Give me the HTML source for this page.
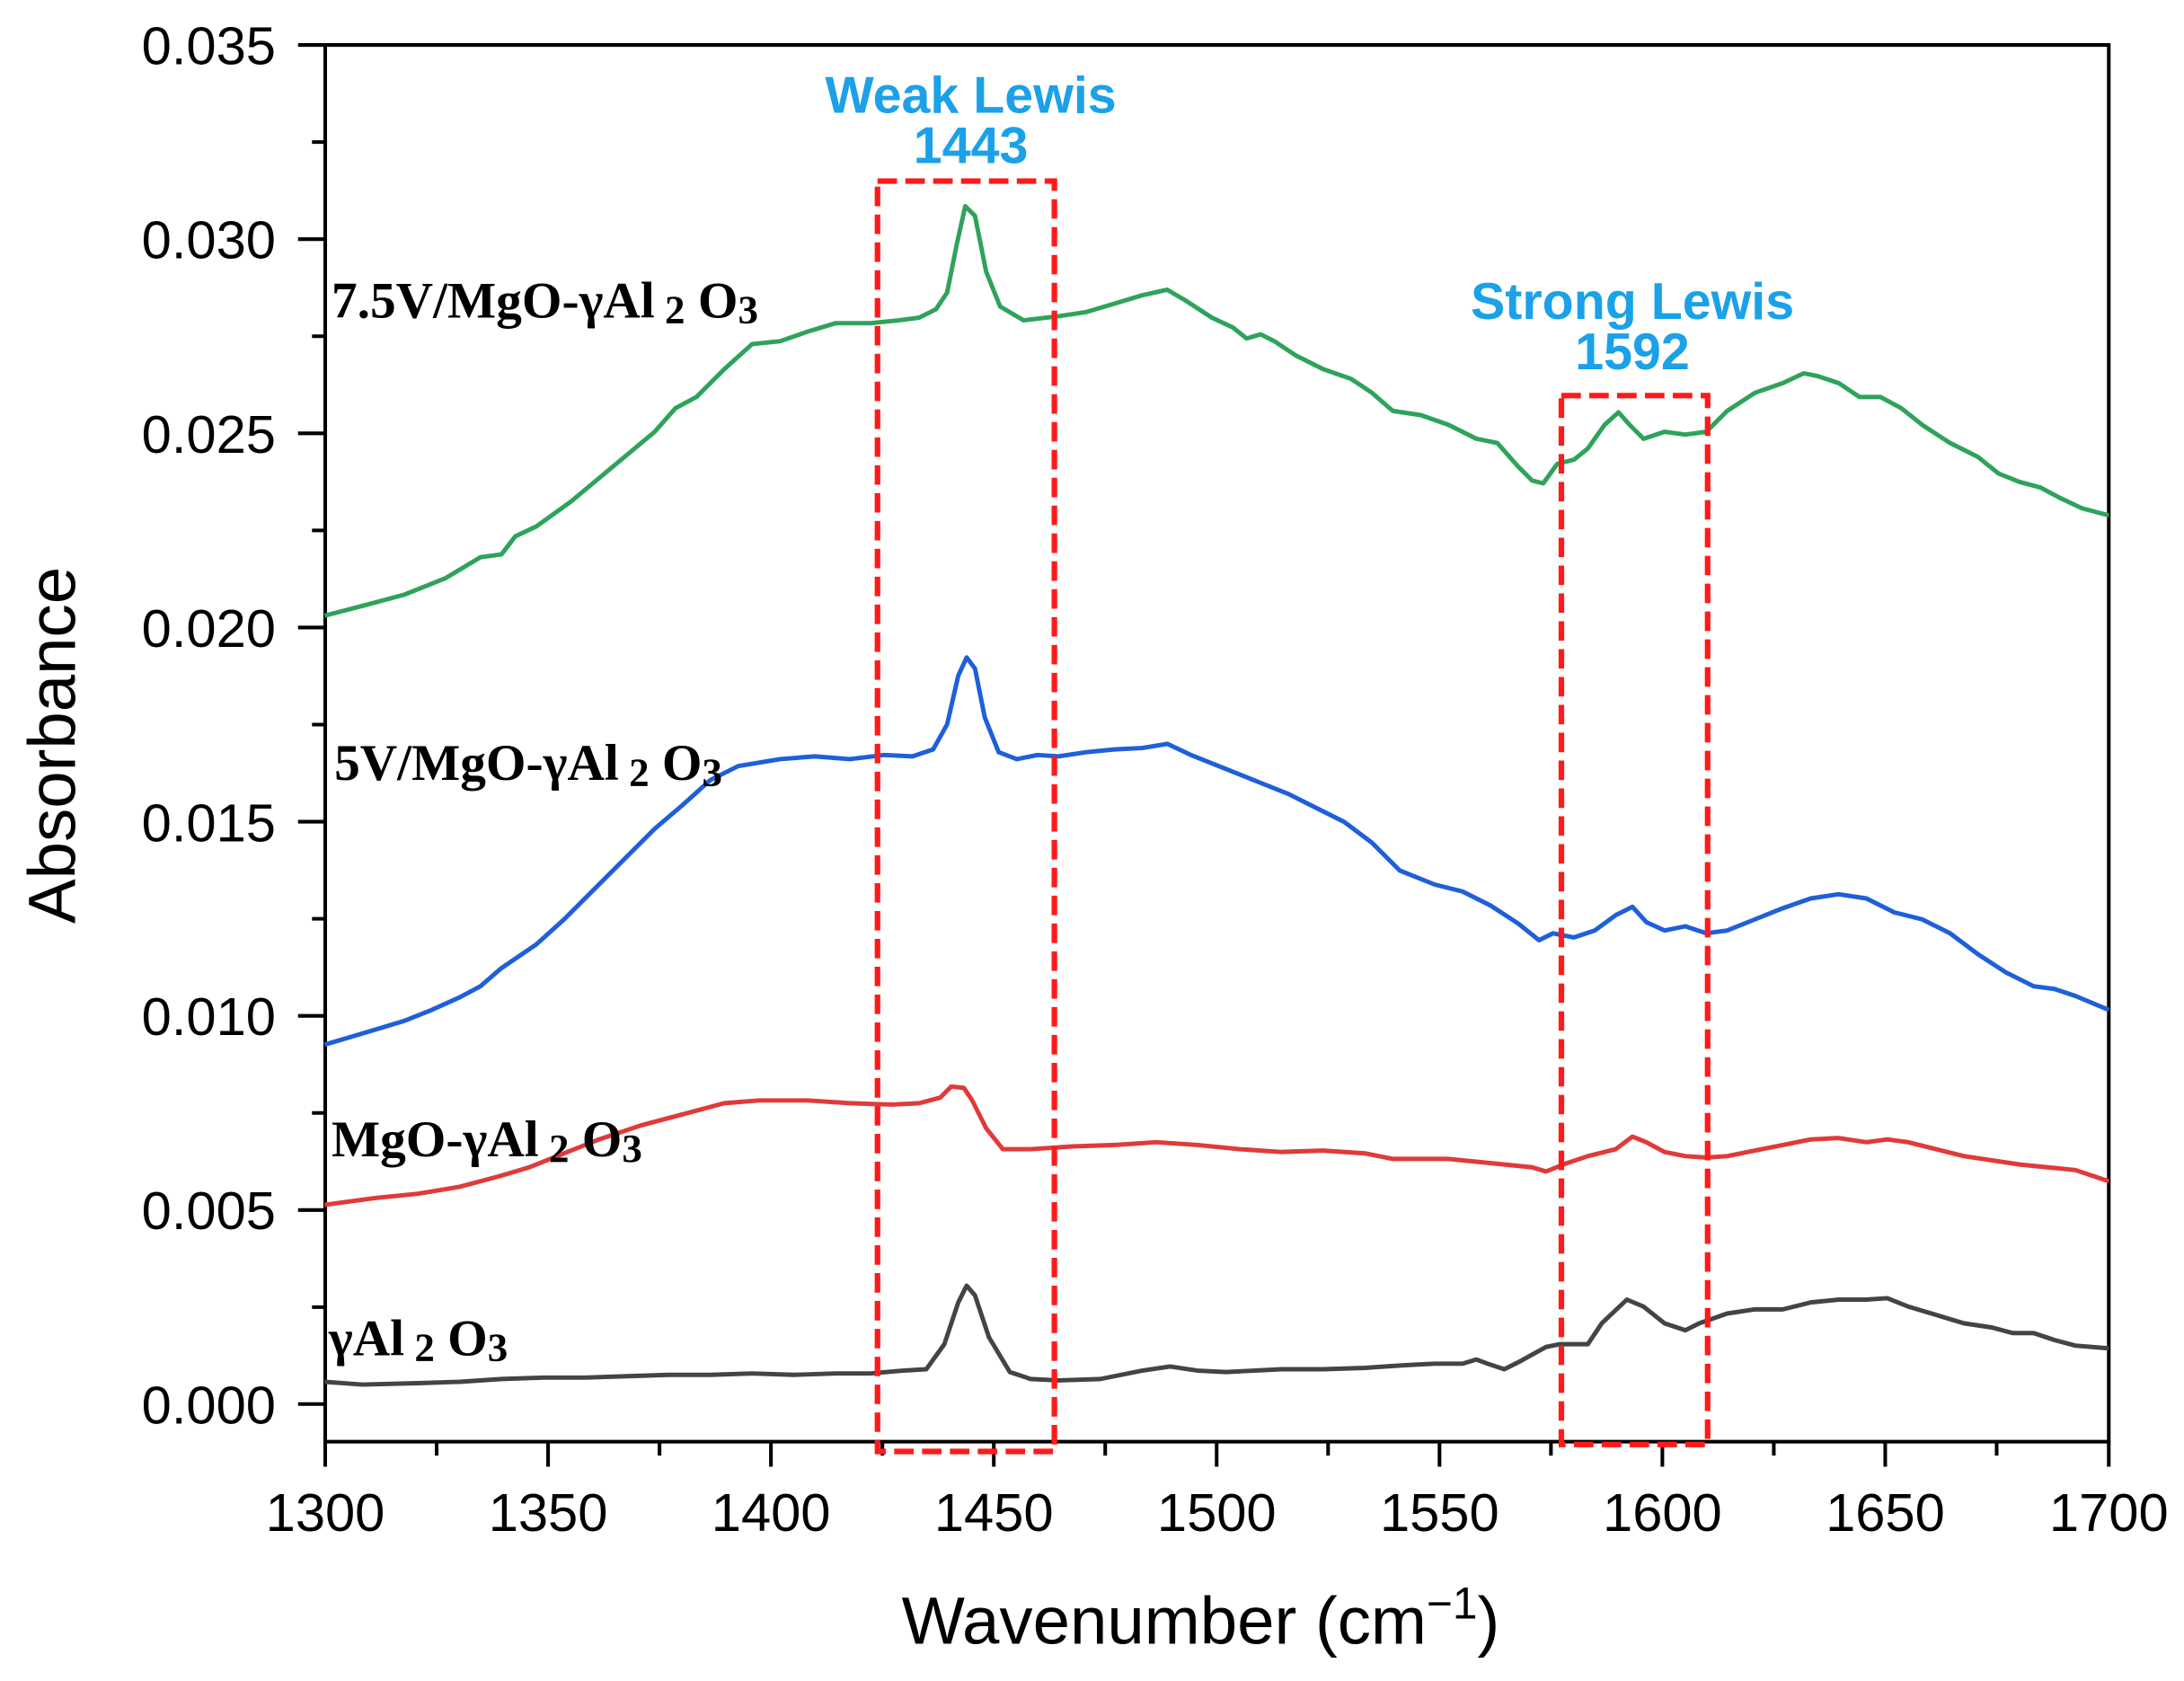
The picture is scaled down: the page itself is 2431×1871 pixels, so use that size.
<!DOCTYPE html>
<html><head><meta charset="utf-8"><style>html,body{margin:0;padding:0;background:#fff}svg{display:block}</style></head>
<body>
<svg width="2431" height="1871" viewBox="0 0 1568 1206.8" xmlns="http://www.w3.org/2000/svg">
<rect width="1568" height="1206.8" fill="#fff"/>
<g stroke="#000" stroke-width="2.6" fill="none">
<polyline points="233.5,32.3 1514,32.3 1514,1035 233.5,1035 233.5,32.3"/>
<path d="M214,32.3H233.5M214,171.7H233.5M214,311.1H233.5M214,450.5H233.5M214,589.9H233.5M214,729.3H233.5M214,868.7H233.5M214,1008H233.5"/>
<path d="M224,102H233.5M224,241.4H233.5M224,380.8H233.5M224,520.2H233.5M224,659.6H233.5M224,799H233.5M224,938.4H233.5"/>
<path d="M233.5,1035V1053M393.5,1035V1053M553.5,1035V1053M713.5,1035V1053M873.5,1035V1053M1033.5,1035V1053M1193.5,1035V1053M1353.5,1035V1053M1514,1035V1053"/>
<path d="M313.5,1035V1045M473.5,1035V1045M633.5,1035V1045M793.5,1035V1045M953.5,1035V1045M1113.5,1035V1045M1273.5,1035V1045M1433.5,1035V1045"/>
</g>
<g font-family="Liberation Sans, Arial, sans-serif" font-size="38.5" fill="#000" text-anchor="end">
<text x="198" y="46">0.035</text><text x="198" y="185.5">0.030</text><text x="198" y="325">0.025</text><text x="198" y="464.5">0.020</text><text x="198" y="604">0.015</text><text x="198" y="743">0.010</text><text x="198" y="882.5">0.005</text><text x="198" y="1022">0.000</text>
</g>
<g font-family="Liberation Sans, Arial, sans-serif" font-size="38.5" fill="#000" text-anchor="middle">
<text x="233.5" y="1099">1300</text><text x="393.5" y="1099">1350</text><text x="553.5" y="1099">1400</text><text x="713.5" y="1099">1450</text><text x="873.5" y="1099">1500</text><text x="1033.5" y="1099">1550</text><text x="1193.5" y="1099">1600</text><text x="1353.5" y="1099">1650</text><text x="1514" y="1099">1700</text>
<text x="862" y="1180" font-size="48">Wavenumber (cm<tspan font-size="32" dy="-18">−1</tspan><tspan dy="18">)</tspan></text>
<text transform="translate(54,535) rotate(-90)" font-size="48">Absorbance</text>
</g>
<g fill="none" stroke-width="3.2" stroke-linejoin="round">
<polyline stroke="#2ea35a" points="233,442 260,435 290,427 320,415 345,400 360,398 370,385 385,378 410,360 440,335 470,310 485,293 500,285 520,265 540,247 560,245 580,238 600,232 625,232 645,230 660,228 672,222 680,210 687,175 693,148 700,155 708,195 718,220 735,230 760,227 780,224 800,218 820,212 838,208 850,215 870,228 885,235 895,243 905,240 915,245 930,255 950,265 970,272 985,282 1000,295 1020,298 1040,305 1060,315 1075,318 1090,335 1100,345 1108,347 1118,333 1130,330 1140,322 1152,305 1162,296 1170,305 1180,315 1195,310 1210,312 1225,310 1240,295 1260,282 1280,275 1295,268 1305,270 1320,275 1335,285 1350,285 1365,293 1380,305 1400,318 1420,328 1435,340 1450,346 1465,350 1480,358 1495,365 1514,370"/>
<polyline stroke="#1f5fd9" points="233,750 260,742 290,733 310,725 330,716 345,708 360,695 385,678 405,660 425,640 450,615 470,595 490,578 510,560 530,550 560,545 585,543 610,545 635,542 655,543 670,538 680,520 688,485 694,472 700,480 707,515 717,540 730,545 745,542 760,543 780,540 800,538 820,537 838,534 855,542 875,550 900,560 925,570 945,580 965,590 985,605 1005,625 1030,635 1050,640 1070,650 1090,663 1105,675 1115,670 1130,673 1145,668 1160,657 1172,651 1182,662 1195,668 1210,665 1225,670 1240,668 1260,660 1280,652 1300,645 1320,642 1340,645 1360,655 1380,660 1400,670 1420,685 1440,698 1460,708 1475,710 1490,715 1514,725"/>
<polyline stroke="#e03a3a" points="233,865 270,860 300,857 330,852 345,848 360,844 380,838 400,830 430,818 460,808 490,800 520,792 545,790 580,790 610,792 640,793 660,792 675,788 683,780 692,781 698,790 708,810 720,825 740,825 770,823 800,822 830,820 860,822 890,825 920,827 950,826 980,828 1000,832 1020,832 1040,832 1060,834 1080,836 1100,838 1110,841 1125,835 1140,830 1160,825 1172,816 1182,820 1195,827 1210,830 1225,831 1240,830 1260,826 1280,822 1300,818 1320,817 1340,820 1355,818 1370,820 1390,825 1410,830 1430,833 1450,836 1470,838 1490,840 1514,848"/>
<polyline stroke="#444" points="233,992 260,994 300,993 330,992 360,990 390,989 420,989 450,988 480,987 510,987 540,986 570,987 600,986 625,986 648,984 665,983 678,965 688,935 694,923 700,930 710,960 725,985 740,990 760,991 790,990 820,984 840,981 860,984 880,985 900,984 920,983 950,983 980,982 1010,980 1030,979 1050,979 1060,976 1068,979 1080,983 1090,978 1110,967 1120,965 1140,965 1150,950 1168,933 1180,938 1195,950 1210,955 1220,950 1240,943 1260,940 1280,940 1300,935 1320,933 1340,933 1355,932 1370,938 1390,944 1410,950 1430,953 1445,957 1460,957 1475,962 1490,966 1514,968"/>
</g>
<g fill="none" stroke="#ff1a1a" stroke-width="4" stroke-dasharray="14,6">
<rect x="630" y="130" width="127" height="912"/>
<rect x="1121" y="284" width="105" height="753"/>
</g>
<g font-family="Liberation Sans, Arial, sans-serif" font-weight="bold" font-size="37" fill="#1ba1e8" text-anchor="middle">
<text x="697" y="81">Weak Lewis</text><text x="697" y="117">1443</text>
<text x="1172" y="229">Strong Lewis</text><text x="1172" y="265">1592</text>
</g>
<g font-family="Liberation Serif, 'DejaVu Serif', serif" font-weight="bold" font-size="37" fill="#000">
<text x="238" y="228">7.5V/MgO-γAl<tspan font-size="29" dy="4"> 2</tspan><tspan dy="-4"> O</tspan><tspan font-size="29" dy="4">3</tspan></text>
<text x="240" y="560">5V/MgO-γAl<tspan font-size="29" dy="4"> 2</tspan><tspan dy="-4"> O</tspan><tspan font-size="29" dy="4">3</tspan></text>
<text x="238" y="830">MgO-γAl<tspan font-size="29" dy="4"> 2</tspan><tspan dy="-4"> O</tspan><tspan font-size="29" dy="4">3</tspan></text>
<text x="236" y="973">γAl<tspan font-size="29" dy="4"> 2</tspan><tspan dy="-4"> O</tspan><tspan font-size="29" dy="4">3</tspan></text>
</g>
</svg>
</body></html>
